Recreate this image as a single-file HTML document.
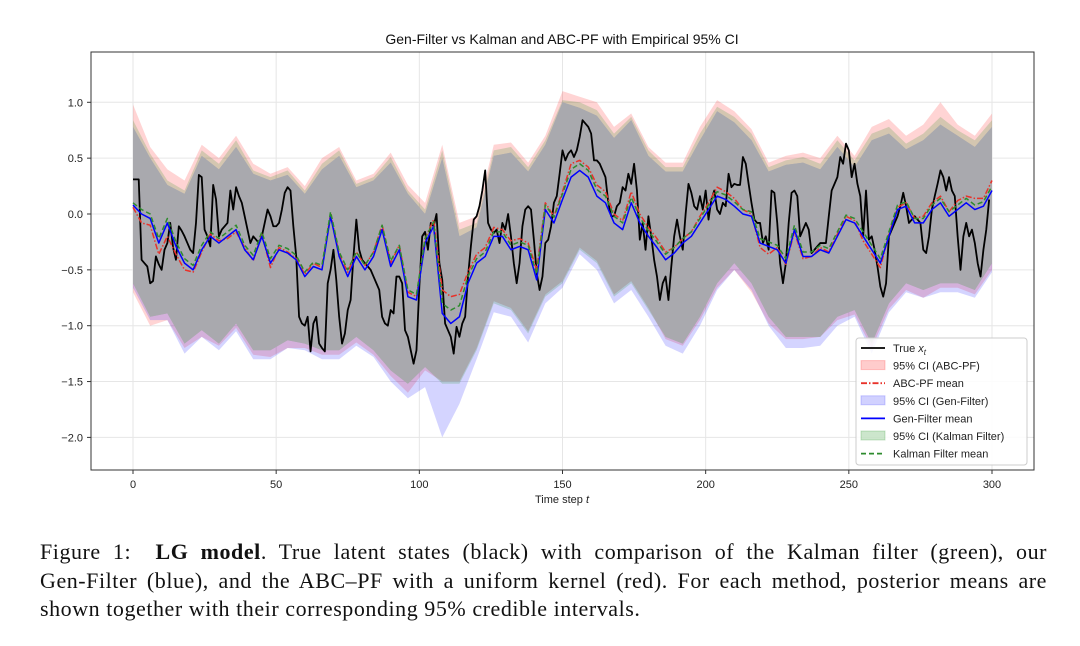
<!DOCTYPE html>
<html><head><meta charset="utf-8"><style>
body{margin:0;background:#fff;width:1080px;height:646px;overflow:hidden;}
#cap{position:absolute;left:40px;top:538px;width:1007px;font-family:"Liberation Serif",serif;font-size:22px;letter-spacing:0.55px;line-height:28.5px;color:#111;}
#cap div{text-align:justify;text-align-last:justify;white-space:nowrap;}
#cap div.last{text-align-last:left;}
</style></head><body>
<svg id="chart" width="1080" height="646" style="position:absolute;left:0;top:0" font-family="Liberation Sans, sans-serif"></svg>
<div id="cap"><div>Figure 1:&nbsp; <b>LG model</b>. True latent states (black) with comparison of the Kalman filter (green), our</div><div>Gen-Filter (blue), and the ABC–PF with a uniform kernel (red). For each method, posterior means are</div><div class="last">shown together with their corresponding 95% credible intervals.</div></div>
<script>
const xTicks=[0,50,100,150,200,250,300];
const yTicks=[-2.0,-1.5,-1.0,-0.5,0.0,0.5,1.0];
const trueX=[0.31,0.31,0.31,-0.41,-0.44,-0.47,-0.62,-0.6,-0.38,-0.45,
-0.5,-0.32,-0.26,-0.08,-0.3,-0.41,-0.11,-0.15,-0.2,-0.26,
-0.32,-0.35,-0.08,0.35,0.33,-0.14,-0.2,-0.29,0.26,0.13,
-0.2,-0.14,-0.11,-0.08,0.21,0.04,0.24,0.16,0.1,-0.02,
-0.14,-0.26,-0.2,-0.23,-0.26,-0.2,-0.08,0.04,-0.02,-0.11,
-0.11,-0.08,0.04,0.19,0.24,0.21,-0.11,-0.38,-0.92,-0.98,
-1.0,-0.92,-1.23,-0.98,-0.92,-1.16,-1.2,-1.23,-0.62,-0.5,
-0.32,-0.59,-0.92,-1.16,-1.07,-0.86,-0.77,-0.38,-0.05,-0.32,
-0.41,-0.44,-0.47,-0.5,-0.56,-0.62,-0.68,-0.92,-0.98,-1.0,
-0.86,-0.89,-0.56,-0.56,-0.62,-1.04,-1.1,-1.22,-1.34,-1.22,
-0.65,-0.2,-0.16,-0.32,-0.08,-0.11,0.0,-0.44,-0.59,-0.98,
-1.04,-1.1,-1.25,-1.01,-1.1,-0.98,-0.92,-0.56,-0.29,-0.05,
-0.02,0.07,0.21,0.39,-0.08,-0.14,-0.17,-0.14,-0.26,-0.08,
-0.14,0.0,-0.2,-0.44,-0.62,-0.44,-0.11,0.04,0.07,0.04,
-0.23,-0.53,-0.68,-0.56,-0.26,-0.23,-0.11,0.1,0.16,0.36,
0.57,0.48,0.54,0.57,0.51,0.57,0.69,0.84,0.81,0.78,
0.72,0.48,0.48,0.45,0.39,0.33,0.1,-0.02,-0.02,0.07,
0.1,0.24,0.21,0.36,0.27,0.45,0.21,-0.23,-0.08,-0.32,
-0.02,-0.2,-0.41,-0.56,-0.77,-0.62,-0.56,-0.77,-0.47,-0.2,
-0.05,-0.2,-0.32,0.0,0.27,0.19,0.07,0.04,0.16,0.04,
0.21,-0.05,0.13,0.21,0.04,0.0,0.1,0.07,0.36,0.24,
0.27,0.26,0.26,0.51,0.45,0.27,0.1,-0.05,-0.08,-0.08,
-0.26,-0.2,-0.32,0.21,0.19,-0.08,-0.44,-0.62,-0.44,-0.08,
0.19,0.21,0.16,-0.2,-0.14,-0.08,-0.14,-0.35,-0.32,-0.29,
-0.26,-0.26,-0.26,-0.02,0.21,0.27,0.33,0.51,0.45,0.63,
0.57,0.33,0.45,0.27,0.16,-0.2,0.21,-0.23,-0.2,-0.32,
-0.47,-0.65,-0.74,-0.62,-0.2,-0.14,-0.08,-0.02,0.07,0.19,
0.07,-0.08,-0.05,-0.02,-0.05,-0.08,-0.32,-0.35,-0.2,0.04,
0.16,0.27,0.39,0.33,0.21,0.33,0.21,0.16,-0.2,-0.5,
-0.2,-0.08,-0.2,-0.14,-0.26,-0.44,-0.56,-0.32,-0.14,0.13];
const genMean=[0.08,0.0,-0.04,-0.26,-0.08,-0.29,-0.44,-0.5,-0.32,-0.2,
-0.26,-0.2,-0.14,-0.32,-0.41,-0.2,-0.44,-0.32,-0.35,-0.41,
-0.56,-0.47,-0.5,-0.02,-0.38,-0.56,-0.38,-0.5,-0.38,-0.14,
-0.47,-0.32,-0.74,-0.77,-0.26,-0.11,-0.89,-0.98,-0.92,-0.62,
-0.44,-0.38,-0.2,-0.2,-0.32,-0.29,-0.32,-0.59,0.04,-0.08,
0.13,0.33,0.39,0.33,0.16,0.1,-0.08,-0.14,0.1,-0.08,
-0.2,-0.3,-0.41,-0.35,-0.26,-0.2,-0.08,0.04,0.16,0.13,
0.07,0.0,-0.02,-0.26,-0.29,-0.32,-0.44,-0.14,-0.38,-0.38,
-0.32,-0.35,-0.2,-0.05,-0.08,-0.2,-0.32,-0.44,-0.2,0.04,
0.07,-0.08,-0.08,0.04,0.1,-0.02,0.04,0.1,0.04,0.07,0.21];
const kalMean=[0.1,0.04,0.0,-0.22,-0.04,-0.25,-0.4,-0.46,-0.28,-0.16,
-0.22,-0.16,-0.1,-0.28,-0.37,-0.16,-0.4,-0.28,-0.31,-0.37,
-0.52,-0.43,-0.46,0.02,-0.34,-0.5,-0.34,-0.46,-0.34,-0.1,
-0.42,-0.28,-0.68,-0.72,-0.22,-0.07,-0.8,-0.86,-0.82,-0.56,
-0.4,-0.34,-0.16,-0.16,-0.28,-0.25,-0.28,-0.54,0.08,-0.03,
0.18,0.4,0.45,0.39,0.22,0.16,-0.02,-0.08,0.15,-0.03,
-0.15,-0.25,-0.36,-0.3,-0.22,-0.16,-0.04,0.08,0.2,0.17,
0.11,0.04,0.02,-0.22,-0.25,-0.28,-0.4,-0.1,-0.34,-0.34,
-0.28,-0.31,-0.16,-0.01,-0.04,-0.16,-0.28,-0.4,-0.16,0.08,
0.11,-0.04,-0.04,0.08,0.14,0.02,0.08,0.14,0.08,0.11,0.25];
const abcMean=[0.06,-0.08,-0.1,-0.36,-0.2,-0.36,-0.5,-0.52,-0.34,-0.18,
-0.24,-0.22,-0.16,-0.3,-0.42,-0.18,-0.48,-0.3,-0.34,-0.4,
-0.54,-0.44,-0.48,0.0,-0.36,-0.52,-0.34,-0.46,-0.34,-0.1,
-0.44,-0.28,-0.7,-0.74,-0.22,-0.05,-0.68,-0.74,-0.72,-0.52,
-0.36,-0.3,-0.12,-0.14,-0.24,-0.22,-0.26,-0.5,0.1,-0.02,
0.2,0.45,0.48,0.42,0.26,0.2,0.0,-0.06,0.2,0.0,
-0.12,-0.22,-0.34,-0.3,-0.22,-0.16,-0.02,0.1,0.24,0.2,
0.14,0.04,0.0,-0.3,-0.36,-0.3,-0.45,-0.16,-0.4,-0.38,
-0.3,-0.34,-0.18,-0.02,-0.06,-0.24,-0.36,-0.48,-0.18,0.06,
0.1,-0.04,-0.02,0.1,0.16,0.02,0.12,0.16,0.14,0.14,0.3];
const ciUpper=[0.84,0.54,0.30,0.21,0.57,0.45,0.66,0.39,0.33,0.39,0.21,0.45,0.57,0.27,0.33,0.51,0.21,0.04,0.57,-0.14,-0.08,0.57,0.60,0.42,0.66,1.02,1.00,0.93,0.72,0.87,0.57,0.42,0.42,0.72,0.96,0.87,0.72,0.42,0.48,0.51,0.45,0.66,0.48,0.72,0.78,0.63,0.72,0.87,0.75,0.66,0.84];
const ciLower=[-0.62,-0.92,-0.89,-1.16,-1.04,-1.16,-0.98,-1.22,-1.22,-1.13,-1.16,-1.22,-1.22,-1.10,-1.22,-1.40,-1.52,-1.37,-1.52,-1.52,-1.22,-0.80,-0.86,-1.07,-0.74,-0.62,-0.32,-0.44,-0.74,-0.62,-0.86,-1.10,-1.16,-0.92,-0.62,-0.44,-0.62,-0.92,-1.10,-1.10,-1.10,-0.92,-0.86,-1.16,-0.80,-0.62,-0.68,-0.62,-0.62,-0.68,-0.44];
const abcUpper=[0.98,0.6,0.4,0.3,0.62,0.5,0.7,0.45,0.36,0.42,0.25,0.5,0.6,0.3,0.36,0.55,0.26,0.1,0.62,-0.08,-0.02,0.62,0.64,0.46,0.7,1.1,1.05,1.0,0.78,0.9,0.6,0.46,0.46,0.78,1.02,0.92,0.76,0.46,0.52,0.55,0.5,0.7,0.52,0.78,0.85,0.7,0.8,1.0,0.8,0.7,0.9];
const abcLower=[-0.7,-1.0,-0.95,-1.2,-1.1,-1.18,-1.02,-1.26,-1.28,-1.2,-1.2,-1.26,-1.26,-1.15,-1.26,-1.45,-1.6,-1.4,-1.5,-1.5,-1.2,-0.78,-0.84,-1.05,-0.72,-0.6,-0.3,-0.42,-0.72,-0.6,-0.84,-1.12,-1.18,-0.95,-0.66,-0.5,-0.7,-0.98,-1.12,-1.12,-1.1,-0.95,-0.9,-1.2,-0.85,-0.68,-0.75,-0.66,-0.66,-0.72,-0.5];
const genUpper=[0.78,0.5,0.26,0.18,0.52,0.4,0.6,0.36,0.3,0.35,0.18,0.4,0.52,0.24,0.3,0.46,0.18,0.0,0.5,-0.2,-0.12,0.52,0.55,0.38,0.62,1.0,0.95,0.88,0.68,0.84,0.52,0.38,0.38,0.66,0.92,0.82,0.66,0.38,0.44,0.46,0.4,0.6,0.42,0.66,0.72,0.58,0.66,0.8,0.7,0.6,0.78];
const genLower=[-0.66,-0.95,-0.95,-1.25,-1.1,-1.22,-1.05,-1.3,-1.3,-1.2,-1.22,-1.3,-1.3,-1.18,-1.28,-1.5,-1.65,-1.55,-2.0,-1.7,-1.3,-0.88,-0.92,-1.15,-0.8,-0.66,-0.36,-0.5,-0.8,-0.68,-0.92,-1.18,-1.25,-1.0,-0.68,-0.5,-0.68,-1.0,-1.2,-1.2,-1.18,-1.0,-0.92,-1.25,-0.88,-0.7,-0.75,-0.7,-0.7,-0.75,-0.52];
const NS="http://www.w3.org/2000/svg";
const svg=document.getElementById('chart');
const L=91,R=1034,T=52,B=470;
function xs(t){return 133+t*(992-133)/300;}
function ys(v){return 214-v*111.7;}
function mk(tag,attrs,parent){const e=document.createElementNS(NS,tag);for(const k in attrs)e.setAttribute(k,attrs[k]);(parent||svg).appendChild(e);return e;}
xTicks.forEach(t=>{const g=mk('line',{x1:xs(t),x2:xs(t),y1:T,y2:B,stroke:'#e6e6e6','stroke-width':1});

});
yTicks.forEach(v=>{const g=mk('line',{x1:L,x2:R,y1:ys(v),y2:ys(v),stroke:'#e6e6e6','stroke-width':1});

});
function band(up,lo,fill,name){let d='';const n=up.length;
for(let i=0;i<n;i++){d+=(i?'L':'M')+xs(i*6)+','+ys(up[i]);}
for(let i=n-1;i>=0;i--){d+='L'+xs(i*6)+','+ys(lo[i]);}
const p=mk('path',{d:d+'Z',fill:fill,stroke:'none'});

}
band(abcUpper,abcLower,'rgba(255,0,0,0.17)','ci-band-abc-pf');
band(genUpper,genLower,'rgba(0,0,255,0.17)','ci-band-gen-filter');
band(ciUpper,ciLower,'rgba(0,128,0,0.17)','ci-band-kalman');
band(ciUpper.map((v,i)=>Math.min(v,genUpper[i],abcUpper[i])),ciLower.map((v,i)=>Math.max(v,genLower[i],abcLower[i])),'#a9a9ae','ci-band-overlap');
function line(arr,step,stroke,w,dash,name){const d=arr.map((v,i)=>(i?'L':'M')+xs(i*step)+','+ys(v)).join('');
const p=mk('path',{d:d,fill:'none',stroke:stroke,'stroke-width':w,'stroke-dasharray':dash||'none','stroke-linejoin':'round'});

}
line(trueX,1,'#000',1.8,null,'true-state-line');
line(abcMean,3,'#e8322a',1.5,'6,2,1.5,2','abc-pf-mean-line');
line(genMean,3,'#0000ff',1.5,null,'gen-filter-mean-line');
line(kalMean,3,'#2e8b2e',1.5,'5,3','kalman-mean-line');
const fr=mk('rect',{x:L,y:T,width:R-L,height:B-T,fill:'none',stroke:'#333','stroke-width':1});


xTicks.forEach(t=>{mk('line',{x1:xs(t),x2:xs(t),y1:B,y2:B+4,stroke:'#333'});
const tx=mk('text',{x:xs(t),y:B+18,'text-anchor':'middle','font-size':11,fill:'#222'});tx.textContent=t;

});
yTicks.forEach(v=>{mk('line',{x1:L-4,x2:L,y1:ys(v),y2:ys(v),stroke:'#333'});
const tx=mk('text',{x:L-8,y:ys(v)+4,'text-anchor':'end','font-size':11,fill:'#222'});tx.textContent=(v<0?'\u2212':'')+Math.abs(v).toFixed(1);

});
const ti=mk('text',{x:562,y:44,'text-anchor':'middle','font-size':14,fill:'#111'});ti.textContent='Gen-Filter vs Kalman and ABC-PF with Empirical 95% CI';


const xl=mk('text',{x:562,y:503,'text-anchor':'middle','font-size':11,fill:'#222'});xl.innerHTML='Time step <tspan font-style="italic">t</tspan>';


const lg=mk('g',{});


mk('rect',{x:856,y:338,width:171,height:127,rx:3,fill:'rgba(255,255,255,0.85)',stroke:'#ccc'},lg);
const items=[['line','#000','none','True x','legend-true'],['patch','rgba(255,0,0,0.2)','','95% CI (ABC-PF)','legend-ci-abc'],['line','#e8322a','6,2,1.5,2','ABC-PF mean','legend-abc-mean'],['patch','rgba(0,0,255,0.18)','','95% CI (Gen-Filter)','legend-ci-gen'],['line','#0000ff','none','Gen-Filter mean','legend-gen-mean'],['patch','rgba(0,128,0,0.2)','','95% CI (Kalman Filter)','legend-ci-kalman'],['line','#2e8b2e','5,3','Kalman Filter mean','legend-kalman-mean']];
items.forEach((it,i)=>{const y=348+i*17.6;const g=mk('g',{},lg);


if(it[0]=='line')mk('line',{x1:861,x2:885,y1:y,y2:y,stroke:it[1],'stroke-width':1.8,'stroke-dasharray':it[2]},g);
else mk('rect',{x:861,y:y-5,width:24,height:9,fill:it[1],stroke:it[1]},g);
const tx=mk('text',{x:893,y:y+4,'font-size':11,fill:'#222'},g);tx.textContent=it[3];
if(i==0){const s=mk('tspan',{'font-style':'italic'},tx);s.textContent='x';const s2=mk('tspan',{'font-style':'italic','font-size':8,dy:3},tx);s2.textContent='t';tx.firstChild.textContent='True ';}
});
</script>
</body></html>
